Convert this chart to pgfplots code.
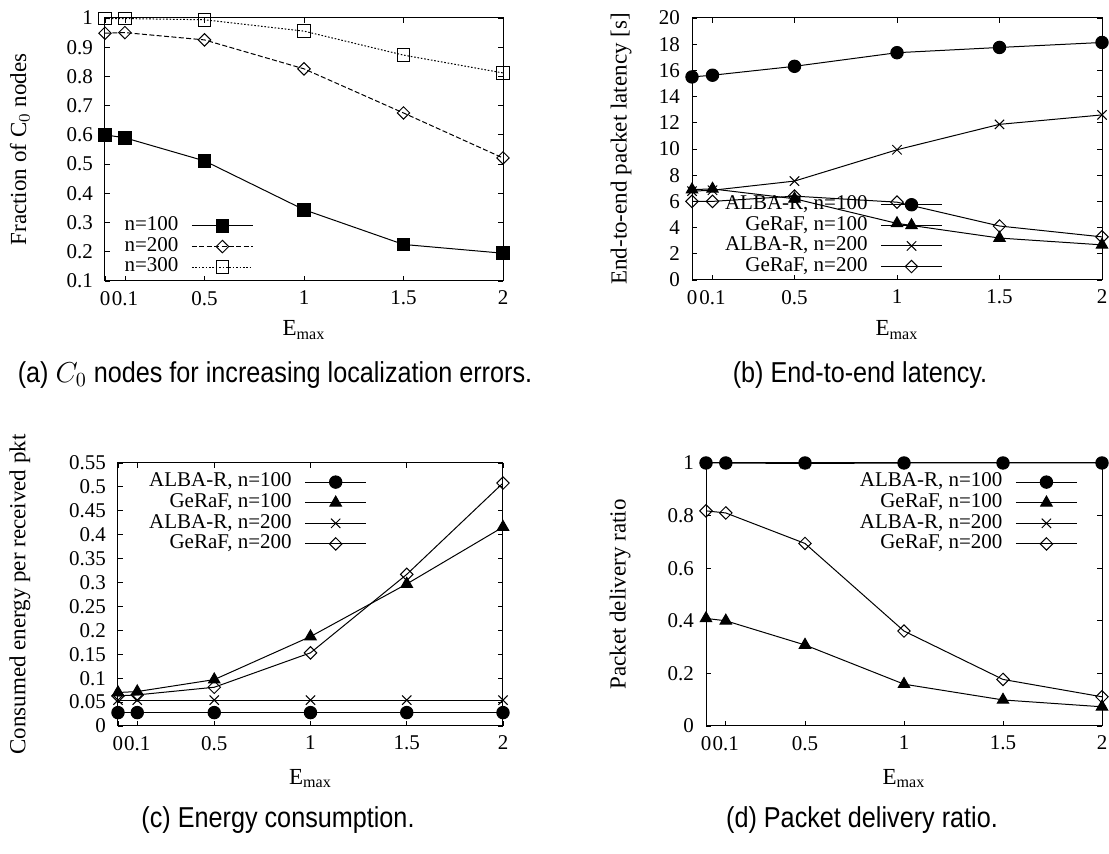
\documentclass[border=0pt]{standalone}
\usepackage{pgfplots}
\pgfplotsset{compat=1.18}
\usepackage{fontspec}
\setmainfont{Liberation Serif}
\newfontfamily\capfont[FakeStretch=0.875]{Liberation Sans}

\pgfplotsset{
  gp/.style={
    scale only axis,
    xmin=0, xmax=2,
    xtick={0,0.1,0.5,1,1.5,2},
    tick align=inside,
    major tick length=2.5pt,
    axis line style={line width=0.5pt},
    every tick/.style={line width=0.4pt, black},
    tick label style={font=\fontsize{10.5}{12}\selectfont},
    /pgf/number format/assume math mode=true,
    yticklabel style={xshift=-2.5pt},
    xticklabel style={yshift=-1.5pt},
    label style={font=\fontsize{11.5}{13}\selectfont},
    xlabel={E\textsubscript{max}},
    every axis plot/.append style={line width=0.5pt, black},
    legend style={draw=none, fill=none, font=\fontsize{10.5}{12}\selectfont,
      inner sep=0pt, row sep=0pt,
      nodes={inner sep=0pt, text height=7.5pt, text depth=2.8pt},
      anchor=north east},
    legend cell align=right,
    legend plot pos=right,
    /tikz/every odd column/.append style={column sep=6.5pt},
    legend image code/.code={
      \draw[mark repeat=2, mark phase=2] plot coordinates {(0pt,0pt) (15.25pt,0pt) (30.5pt,0pt)};
    },
  },
  mcirc/.style={mark=*, mark size=3.1pt, mark options={solid, fill=black}},
  mtri/.style={mark=triangle*, mark size=3.3pt, mark options={solid, fill=black}},
  mcross/.style={mark=x, mark size=3.3pt, mark options={solid}},
  mdiam/.style={mark=square, mark size=2.2pt, mark options={solid, rotate=45}},
}

\begin{document}
\begin{tikzpicture}
\useasboundingbox (0,0) rectangle (554.5pt,427pt);

% (a) fraction of C0 nodes
\begin{axis}[gp,
  at={(52.5pt,286.5pt)}, anchor=south west,
  width=199pt, height=131.5pt,
  ymin=0.1, ymax=1, ytick={0.1,0.2,...,1.01},
  ylabel={Fraction of C$_0$ nodes},
  ylabel style={at={(axis description cs:-0.214,0.5)}, anchor=center},
  xlabel style={at={(axis description cs:0.5,-0.186)}, anchor=center},
  legend style={at={(axis description cs:0.374,0.25)}},
]
\addplot[mark=square*, mark size=3.2pt, mark options={solid, fill=black}] coordinates {
  (0,0.600) (0.1,0.590) (0.5,0.511) (1,0.344) (1.5,0.225) (2,0.195)
};
\addlegendentry{n=100}
\addplot[dash pattern=on 2.5pt off 1.2pt, mdiam] coordinates {
  (0,0.948) (0.1,0.950) (0.5,0.925) (1,0.826) (1.5,0.675) (2,0.521)
};
\addlegendentry{n=200}
\addplot[dash pattern=on 0.8pt off 0.9pt, mark=square, mark size=3.2pt, mark options={solid}] coordinates {
  (0,0.998) (0.1,0.998) (0.5,0.994) (1,0.955) (1.5,0.873) (2,0.812)
};
\addlegendentry{n=300}
\end{axis}

% (b) end-to-end latency
\begin{axis}[gp,
  at={(346pt,287pt)}, anchor=south west,
  width=205pt, height=131pt,
  ymin=0, ymax=20, ytick={0,2,...,20},
  ylabel={End-to-end packet latency [s]},
  ylabel style={at={(axis description cs:-0.173,0.5)}, anchor=center},
  xlabel style={at={(axis description cs:0.5,-0.19)}, anchor=center},
  legend style={at={(axis description cs:0.612,0.328)}},
]
\addplot[mcirc] coordinates {
  (0,15.50) (0.1,15.63) (0.5,16.31) (1,17.35) (1.5,17.75) (2,18.13)
};
\addlegendentry{ALBA-R, n=100}
\addplot[mtri] coordinates {
  (0,6.90) (0.1,6.95) (0.5,6.20) (1,4.32) (1.5,3.20) (2,2.68)
};
\addlegendentry{GeRaF, n=100}
\addplot[mcross] coordinates {
  (0,6.78) (0.1,6.85) (0.5,7.55) (1,9.94) (1.5,11.88) (2,12.60)
};
\addlegendentry{ALBA-R, n=200}
\addplot[mdiam] coordinates {
  (0,6.00) (0.1,6.00) (0.5,6.40) (1,5.94) (1.5,4.12) (2,3.29)
};
\addlegendentry{GeRaF, n=200}
\end{axis}

% (c) energy consumption
\begin{axis}[gp,
  at={(59pt,64pt)}, anchor=south west,
  width=192.5pt, height=131.5pt,
  ymin=0, ymax=0.55, ytick={0,0.05,...,0.56},
  yticklabel style={/pgf/number format/fixed, /pgf/number format/precision=2},
  ylabel={Consumed energy per received pkt},
  ylabel style={at={(axis description cs:-0.255,0.5)}, anchor=center},
  xlabel style={at={(axis description cs:0.5,-0.2)}, anchor=center},
  legend style={at={(axis description cs:0.647,0.968)}},
]
\addplot[mcirc] coordinates {
  (0,0.028) (0.1,0.028) (0.5,0.028) (1,0.028) (1.5,0.028) (2,0.028)
};
\addlegendentry{ALBA-R, n=100}
\addplot[mtri] coordinates {
  (0,0.070) (0.1,0.072) (0.5,0.097) (1,0.187) (1.5,0.297) (2,0.416)
};
\addlegendentry{GeRaF, n=100}
\addplot[mcross] coordinates {
  (0,0.054) (0.1,0.054) (0.5,0.054) (1,0.054) (1.5,0.054) (2,0.054)
};
\addlegendentry{ALBA-R, n=200}
\addplot[mdiam] coordinates {
  (0,0.063) (0.1,0.065) (0.5,0.081) (1,0.153) (1.5,0.317) (2,0.508)
};
\addlegendentry{GeRaF, n=200}
\end{axis}

% (d) packet delivery ratio
\begin{axis}[gp,
  at={(353pt,64pt)}, anchor=south west,
  width=198pt, height=131.5pt,
  ymin=0, ymax=1, ytick={0,0.2,...,1.01},
  ylabel={Packet delivery ratio},
  ylabel style={at={(axis description cs:-0.217,0.5)}, anchor=center},
  xlabel style={at={(axis description cs:0.5,-0.2)}, anchor=center},
  legend style={at={(axis description cs:0.939,0.968)}},
]
\addplot[mcirc] coordinates {
  (0,1) (0.1,1) (0.5,1) (1,1) (1.5,1) (2,1)
};
\addlegendentry{ALBA-R, n=100}
\addplot[mtri] coordinates {
  (0,0.409) (0.1,0.400) (0.5,0.308) (1,0.159) (1.5,0.099) (2,0.073)
};
\addlegendentry{GeRaF, n=100}
\addplot[mcross] coordinates {
  (0,1) (0.1,1) (0.5,0.998) (1,1) (1.5,1) (2,1)
};
\addlegendentry{ALBA-R, n=200}
\addplot[mdiam] coordinates {
  (0,0.818) (0.1,0.810) (0.5,0.694) (1,0.361) (1.5,0.177) (2,0.111)
};
\addlegendentry{GeRaF, n=200}
\end{axis}

% sub-captions
\node[font=\capfont\fontsize{14.4}{16}\selectfont] at (137.5pt,239.5pt) {(a) $C_0$ nodes for increasing localization errors.};
\node[font=\capfont\fontsize{14.4}{16}\selectfont] at (430pt,239.5pt) {(b) End-to-end latency.};
\node[font=\capfont\fontsize{14.4}{16}\selectfont] at (139pt,17pt) {(c) Energy consumption.};
\node[font=\capfont\fontsize{14.4}{16}\selectfont] at (431pt,17pt) {(d) Packet delivery ratio.};
\end{tikzpicture}
\end{document}
